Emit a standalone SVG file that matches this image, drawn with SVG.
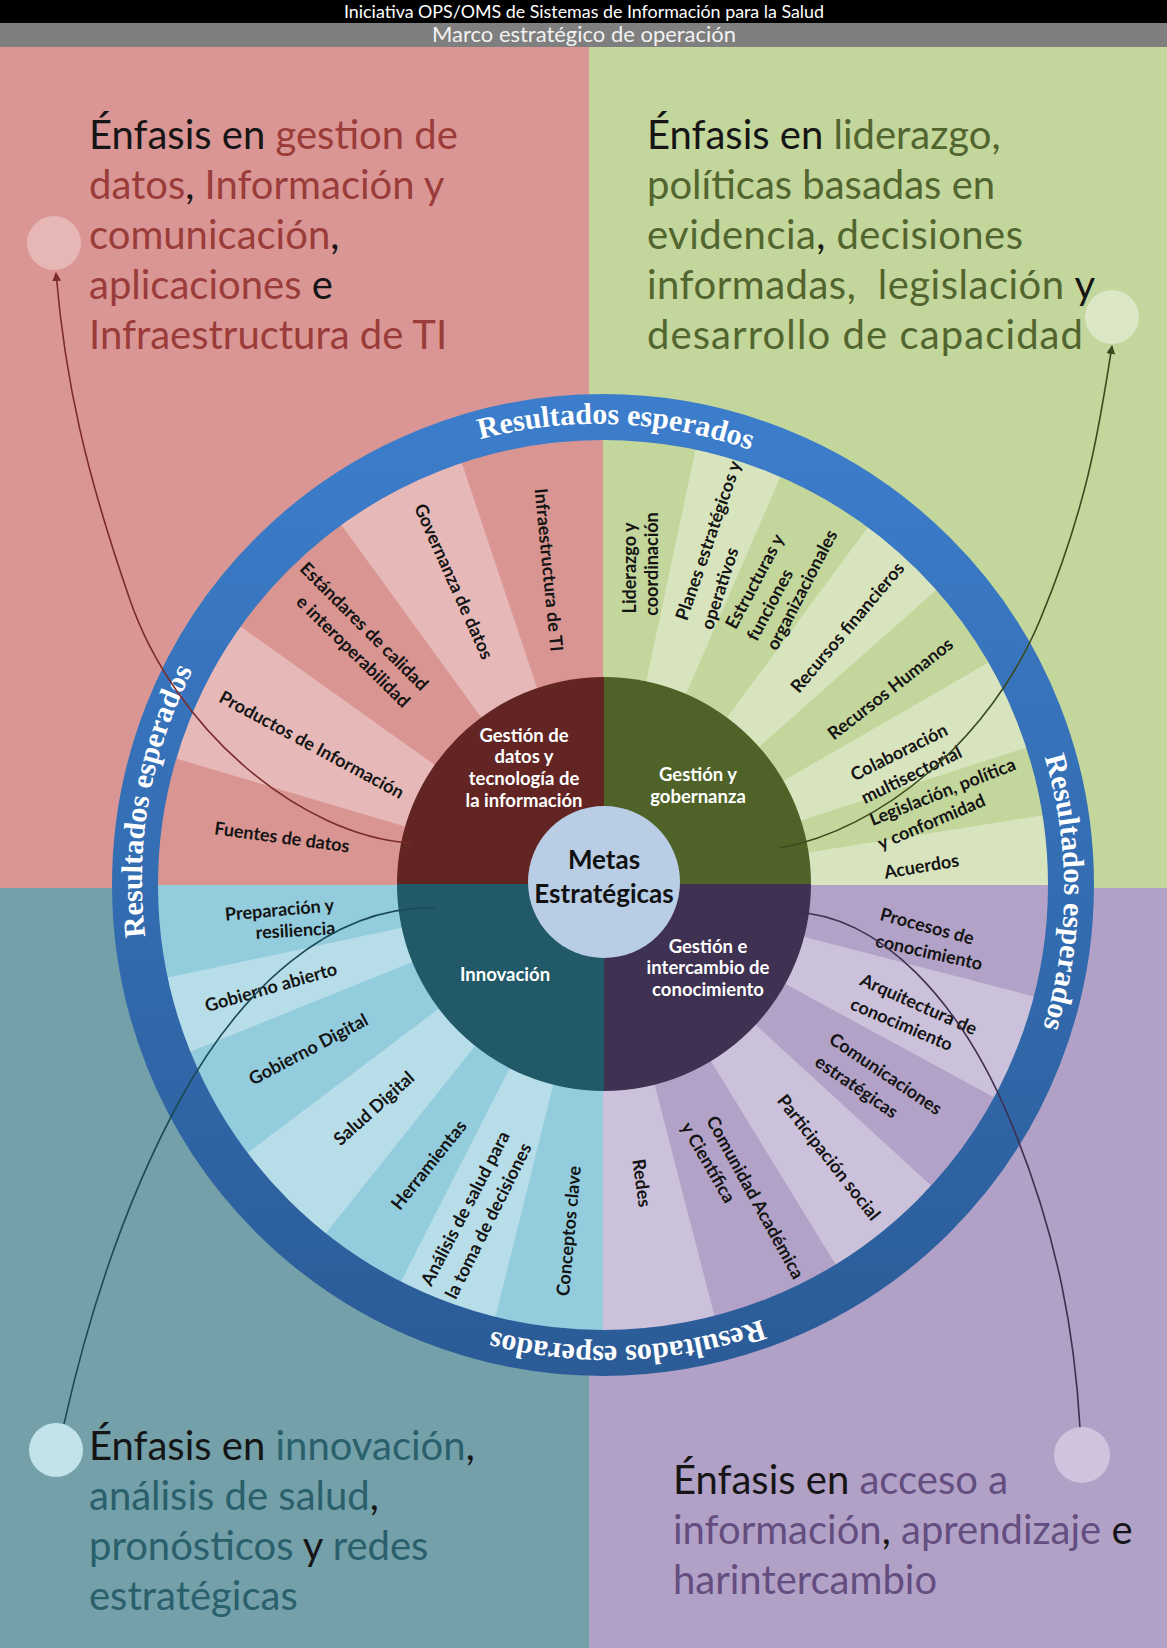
<svg xmlns="http://www.w3.org/2000/svg" width="1167" height="1648" viewBox="0 0 1167 1648">
<defs>
<style>
.lbl{font-family:Lato,'Liberation Sans',sans-serif;font-weight:700;font-size:18px;fill:#141414;text-anchor:middle}
.dl{font-family:Lato,'Liberation Sans',sans-serif;font-weight:700;font-size:18.5px;fill:#fff;text-anchor:middle}
.mt{font-family:Lato,'Liberation Sans',sans-serif;font-weight:700;font-size:26px;fill:#111;text-anchor:middle}
.em{font-family:Lato,'Liberation Sans',sans-serif;font-size:40px;white-space:pre}
.k{fill:#151515}.r{fill:#9a3c3a}.g{fill:#52652f}.t{fill:#2a5f6c}.p{fill:#634e7f}
.rt{font-family:'Liberation Serif',serif;font-weight:700;font-size:30px;fill:#fff}
.con{fill:none;stroke-width:1.6}
</style>
<linearGradient id="rg" x1="0" y1="0" x2="0" y2="1"><stop offset="0" stop-color="#3c7dcb"/><stop offset="1" stop-color="#2b5c98"/></linearGradient>
<path id="rp" d="M280.6,1207.4 A456,456 0 1 1 925.4,562.6 A456,456 0 1 1 280.6,1207.4" fill="none"/>
<marker id="ahr" viewBox="0 0 10 10" refX="9" refY="5" markerWidth="9" markerHeight="9" orient="auto" markerUnits="userSpaceOnUse"><path d="M0,0 L10,5 L0,10 z" fill="#7a2c2a"/></marker>
<marker id="ahg" viewBox="0 0 10 10" refX="9" refY="5" markerWidth="9" markerHeight="9" orient="auto" markerUnits="userSpaceOnUse"><path d="M0,0 L10,5 L0,10 z" fill="#3b4a1f"/></marker>
</defs>

<g id="background">
<rect x="0" y="0" width="1167" height="23" fill="#000"/>
<rect x="0" y="23" width="1167" height="24" fill="#7f7f7f"/>
<rect x="0" y="47" width="589" height="841" fill="#da9694"/>
<rect x="589" y="47" width="578" height="841" fill="#c3d69b"/>
<rect x="0" y="888" width="589" height="760" fill="#74a0aa"/>
<rect x="589" y="888" width="578" height="760" fill="#b2a1c7"/>
</g>

<g id="titulo">
<text x="584" y="18" font-family="Lato,'Liberation Sans',sans-serif" font-size="18" fill="#fff" text-anchor="middle" textLength="480" lengthAdjust="spacingAndGlyphs">Iniciativa OPS/OMS de Sistemas de Información para la Salud</text>
</g>
<g id="subtitulo">
<text x="584" y="42" font-family="Lato,'Liberation Sans',sans-serif" font-size="22" fill="#f2f2f2" text-anchor="middle" textLength="304" lengthAdjust="spacingAndGlyphs">Marco estratégico de operación</text>
</g>

<g id="enfasis-datos">
<text class="em" x="89" y="149"><tspan class="k">Énfasis en </tspan><tspan class="r">gestion de</tspan></text>
<text class="em" x="89" y="199"><tspan class="r">datos</tspan><tspan class="k">,</tspan><tspan class="r"> Información y</tspan></text>
<text class="em" x="89" y="249"><tspan class="r">comunicación</tspan><tspan class="k">,</tspan></text>
<text class="em" x="89" y="299"><tspan class="r">aplicaciones</tspan><tspan class="k"> e</tspan></text>
<text class="em" x="89" y="349"><tspan class="r">Infraestructura de TI</tspan></text>
</g>
<g id="enfasis-gestion">
<text class="em" x="647" y="149"><tspan class="k">Énfasis en </tspan><tspan class="g">liderazgo,</tspan></text>
<text class="em g" x="647" y="199">políticas basadas en</text>
<text class="em" x="647" y="249" textLength="376" lengthAdjust="spacing"><tspan class="g">evidencia</tspan><tspan class="k">,</tspan><tspan class="g"> decisiones</tspan></text>
<text class="em" x="647" y="299" textLength="448" lengthAdjust="spacing"><tspan class="g">informadas,  legislación</tspan><tspan class="k"> y</tspan></text>
<text class="em g" x="647" y="349" textLength="436" lengthAdjust="spacing">desarrollo de capacidad</text>
</g>
<g id="enfasis-innovacion">
<text class="em" x="89" y="1460"><tspan class="k">Énfasis en </tspan><tspan class="t">innovación</tspan><tspan class="k">,</tspan></text>
<text class="em" x="89" y="1510"><tspan class="t">análisis de salud</tspan><tspan class="k">,</tspan></text>
<text class="em" x="89" y="1560"><tspan class="t">pronósticos</tspan><tspan class="k"> y</tspan><tspan class="t"> redes</tspan></text>
<text class="em t" x="89" y="1610">estratégicas</text>
</g>
<g id="enfasis-conocimiento">
<text class="em" x="673" y="1494"><tspan class="k">Énfasis en </tspan><tspan class="p">acceso a</tspan></text>
<text class="em" x="673" y="1544"><tspan class="p">información</tspan><tspan class="k">,</tspan><tspan class="p"> aprendizaje</tspan><tspan class="k"> e</tspan></text>
<text class="em p" x="673" y="1594">harintercambio</text>
</g>

<g id="sectores">
<path d="M603,885 L156,885 A447,447 0 0 1 603,438 Z" fill="#d99592"/>
<path d="M603,885 L603,438 A447,447 0 0 1 1050,885 Z" fill="#c3d69b"/>
<path d="M603,885 L1050,885 A447,447 0 0 1 603,1332 Z" fill="#b3a2c7"/>
<path d="M603,885 L603,1332 A447,447 0 0 1 156,885 Z" fill="#93cddd"/>
<g fill="#e6b9b8">
<path d="M603,885 L174.4,758.1 A447,447 0 0 1 239.1,625.4 Z"/>
<path d="M603,885 L340.3,523.4 A447,447 0 0 1 461.2,461.1 Z"/>
</g>
<g fill="#d8e4bd">
<path d="M603,885 L695.9,447.8 A447,447 0 0 1 781.2,475.1 Z"/>
<path d="M603,885 L868.9,525.7 A447,447 0 0 1 937.8,588.8 Z"/>
<path d="M603,885 L990.1,661.5 A447,447 0 0 1 1028.1,746.9 Z"/>
<path d="M603,885 L1044.5,815.1 A447,447 0 0 1 1050,885 Z"/>
</g>
<g fill="#b7dee8">
<path d="M603,885 L188.5,1052.4 A447,447 0 0 1 165.8,977.9 Z"/>
<path d="M603,885 L324.7,1234.8 A447,447 0 0 1 246,1154 Z"/>
<path d="M603,885 L494.9,1318.7 A447,447 0 0 1 400.1,1283.3 Z"/>
</g>
<g fill="#ccc1da">
<path d="M603,885 L714.9,1317.7 A447,447 0 0 1 603,1332 Z"/>
<path d="M603,885 L932.6,1187 A447,447 0 0 1 836.6,1266.1 Z"/>
<path d="M603,885 L1035.7,996.9 A447,447 0 0 1 995.8,1098.3 Z"/>
</g>
</g>

<g id="anillo">
<circle cx="603" cy="885" r="468" fill="none" stroke="url(#rg)" stroke-width="46"/>
<text class="rt"><textPath href="#rp" startOffset="15.4%" text-anchor="middle">Resultados esperados</textPath></text>
<text class="rt"><textPath href="#rp" startOffset="38%" text-anchor="middle">Resultados esperados</textPath></text>
<text class="rt"><textPath href="#rp" startOffset="62.7%" text-anchor="middle">Resultados esperados</textPath></text>
<text class="rt"><textPath href="#rp" startOffset="86.7%" text-anchor="middle">Resultados esperados</textPath></text>
</g>

<g id="resultados-datos">
<text class="lbl" transform="translate(282,837.5) rotate(7.7)" y="6">Fuentes de datos</text>
<text class="lbl" transform="translate(311.5,745) rotate(28.3)" y="6">Productos de Información</text>
<text class="lbl" transform="translate(364,626.5) rotate(45)" y="6">Estándares de calidad</text>
<text class="lbl" transform="translate(353,651.5) rotate(44.5)" y="6">e interoperabilidad</text>
<text class="lbl" transform="translate(453.5,581.5) rotate(65.9)" y="6">Governanza de datos</text>
<text class="lbl" transform="translate(548.5,570) rotate(84.4)" y="6">Infraestructura de TI</text>
</g>
<g id="resultados-gestion">
<text class="lbl" transform="translate(630,568) rotate(-90)" y="6">Liderazgo y</text>
<text class="lbl" transform="translate(652,564) rotate(-90)" y="6">coordinación</text>
<text class="lbl" transform="translate(708.5,540.5) rotate(-71)" y="6">Planes estratégicos y</text>
<text class="lbl" transform="translate(720,588.5) rotate(-72)" y="6">operativos</text>
<text class="lbl" transform="translate(755,581.5) rotate(-62)" y="6">Estructuras y</text>
<text class="lbl" transform="translate(770,605) rotate(-62)" y="6">funciones</text>
<text class="lbl" transform="translate(802,590) rotate(-62.5)" y="6">organizacionales</text>
<text class="lbl" transform="translate(847.5,627.5) rotate(-49.7)" y="6">Recursos financieros</text>
<text class="lbl" transform="translate(890.5,689) rotate(-38)" y="6">Recursos Humanos</text>
<text class="lbl" transform="translate(899,752.5) rotate(-26.5)" y="6">Colaboración</text>
<text class="lbl" transform="translate(911.5,775) rotate(-26)" y="6">multisectorial</text>
<text class="lbl" transform="translate(942.5,792) rotate(-21.5)" y="6">Legislación, política</text>
<text class="lbl" transform="translate(931.5,822) rotate(-23)" y="6">y conformidad</text>
<text class="lbl" transform="translate(921.5,866.5) rotate(-9.6)" y="6">Acuerdos</text>
</g>
<g id="resultados-innovacion">
<text class="lbl" transform="translate(279.5,910) rotate(-5)" y="6">Preparación y</text>
<text class="lbl" transform="translate(295.5,930.5) rotate(-3.5)" y="6">resiliencia</text>
<text class="lbl" transform="translate(271,987.5) rotate(-16.1)" y="6">Gobierno abierto</text>
<text class="lbl" transform="translate(308.5,1049.5) rotate(-27.9)" y="6">Gobierno Digital</text>
<text class="lbl" transform="translate(374,1108.5) rotate(-41.7)" y="6">Salud Digital</text>
<text class="lbl" transform="translate(429,1165) rotate(-51.3)" y="6">Herramientas</text>
<text class="lbl" transform="translate(465.5,1208.5) rotate(-62.5)" y="6">Análisis de salud para</text>
<text class="lbl" transform="translate(488.5,1221) rotate(-63.5)" y="6">la toma de decisiones</text>
<text class="lbl" transform="translate(569,1231) rotate(-84.8)" y="6">Conceptos clave</text>
</g>
<g id="resultados-conocimiento">
<text class="lbl" transform="translate(927,926.5) rotate(15)" y="6">Procesos de</text>
<text class="lbl" transform="translate(929,952.5) rotate(12.6)" y="6">conocimiento</text>
<text class="lbl" transform="translate(918.5,1004.5) rotate(24)" y="6">Arquitectura de</text>
<text class="lbl" transform="translate(901.5,1024.5) rotate(23)" y="6">conocimiento</text>
<text class="lbl" transform="translate(885.5,1074) rotate(34)" y="6">Comunicaciones</text>
<text class="lbl" transform="translate(856.5,1087) rotate(34.5)" y="6">estratégicas</text>
<text class="lbl" transform="translate(828.5,1157.5) rotate(51.8)" y="6">Participación social</text>
<text class="lbl" transform="translate(755,1197.5) rotate(61.2)" y="6">Comunidad Académica</text>
<text class="lbl" transform="translate(708,1162.5) rotate(60)" y="6">y Científica</text>
<text class="lbl" transform="translate(641.5,1183) rotate(82)" y="6">Redes</text>
</g>

<g id="gestion-datos-tecnologia">
<path d="M604,884 L397,884 A207,207 0 0 1 604,677 Z" fill="#632523"/>
<text class="dl" x="524" y="742">Gestión de</text>
<text class="dl" x="524" y="763">datos y</text>
<text class="dl" x="524" y="785">tecnología de</text>
<text class="dl" x="524" y="807">la información</text>
</g>
<g id="gestion-gobernanza">
<path d="M604,884 L604,677 A207,207 0 0 1 811,884 Z" fill="#4f6228"/>
<text class="dl" x="698" y="781">Gestión y</text>
<text class="dl" x="698" y="803">gobernanza</text>
</g>
<g id="gestion-conocimiento">
<path d="M604,884 L811,884 A207,207 0 0 1 604,1091 Z" fill="#3f3151"/>
<text class="dl" x="708" y="953">Gestión e</text>
<text class="dl" x="708" y="974">intercambio de</text>
<text class="dl" x="708" y="996">conocimiento</text>
</g>
<g id="innovacion">
<path d="M604,884 L604,1091 A207,207 0 0 1 397,884 Z" fill="#215968"/>
<text class="dl" x="505" y="981">Innovación</text>
</g>
<g id="metas">
<circle cx="604" cy="882" r="76" fill="#b9cde5"/>
<text class="mt" x="604" y="869">Metas</text>
<text class="mt" x="604" y="903">Estratégicas</text>
</g>

<g id="conectores">
<path class="con" d="M410,843 C300,835 175,730 130,600 S65,380 56,273" stroke="#7a2c2a" marker-end="url(#ahr)"/>
<path class="con" d="M780,848 C880,830 990,740 1040,620 S1100,420 1112,346" stroke="#3b4a1f" marker-end="url(#ahg)"/>
<path class="con" d="M435,908 C330,905 240,990 180,1100 S85,1330 64,1424" stroke="#1c4a57"/>
<path class="con" d="M793,912 C880,915 960,1000 1010,1120 S1075,1340 1080,1428" stroke="#3e3050"/>
</g>

<g id="punto-datos"><circle cx="54" cy="243" r="27" fill="#e7b7b6"/></g>
<g id="punto-gestion"><circle cx="1112" cy="317" r="27" fill="#dce7c6"/></g>
<g id="punto-innovacion"><circle cx="56" cy="1450" r="27" fill="#c3e3ea"/></g>
<g id="punto-conocimiento"><circle cx="1082" cy="1455" r="28" fill="#cfc3de"/></g>
</svg>
